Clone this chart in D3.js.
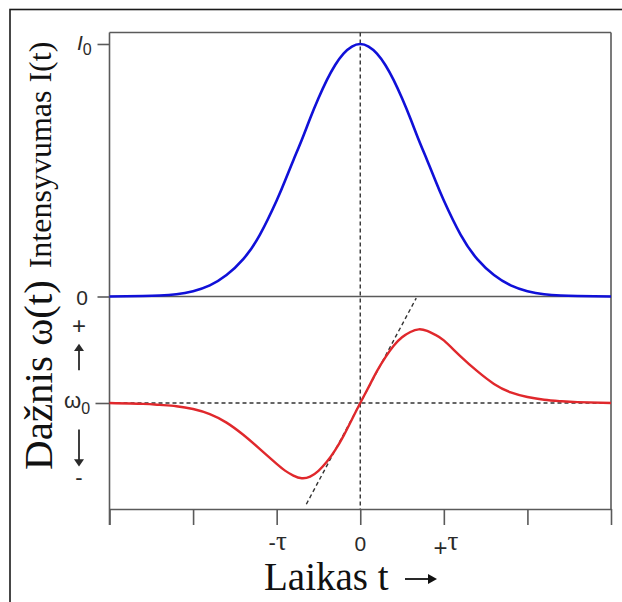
<!DOCTYPE html>
<html>
<head>
<meta charset="utf-8">
<script src="https://cdn.jsdelivr.net/npm/d3@7"></script>
<style>
  html, body { margin: 0; padding: 0; background: #fff; }
  svg { display: block; }
</style>
</head>
<body>
<svg id="chart" width="622" height="602"></svg>
<script>
// Time axis in units of the pulse duration tau
const timeSamples = [-3, -2.6, -2.4, -2.2, -2, -1.8, -1.6, -1.4, -1.2, -1, -0.9, -0.8, -0.7, -0.6, -0.5, -0.4, -0.3, -0.2, -0.1,
                     0, 0.1, 0.2, 0.3, 0.4, 0.5, 0.6, 0.7, 0.8, 0.9, 1, 1.2, 1.4, 1.6, 1.8, 2, 2.2, 2.4, 2.6, 3];
// Pulse intensity I(t) relative to the peak I0
const intensity = [0, 0.002, 0.004, 0.009, 0.021, 0.044, 0.085, 0.148, 0.245, 0.38, 0.458, 0.54, 0.62, 0.705, 0.785, 0.857, 0.917, 0.962, 0.99,
                   1, 0.99, 0.962, 0.917, 0.857, 0.785, 0.705, 0.62, 0.54, 0.458, 0.38, 0.245, 0.148, 0.085, 0.044, 0.021, 0.009, 0.004, 0.002, 0];
// Instantaneous frequency shift omega(t) - omega0 (arbitrary units)
const frequencyShift = [0, -0.008, -0.018, -0.031, -0.057, -0.105, -0.185, -0.30, -0.435, -0.575, -0.638, -0.685, -0.71, -0.695, -0.64, -0.555, -0.445, -0.31, -0.155,
                        0, 0.15, 0.30, 0.43, 0.54, 0.62, 0.67, 0.695, 0.68, 0.643, 0.59, 0.44, 0.30, 0.18, 0.10, 0.057, 0.031, 0.017, 0.008, 0];
// Linear chirp near the pulse centre (dashed tangent)
const tangentT = [-0.645, 0.67];
const tangentW = [-0.955, 0.99];
// Time ticks
const timeTicks = [-3, -2, -1, 0, 1, 2, 3];
const timeTickLabels = [
  { t: -1, sign: "-", sym: "τ" },
  { t: 0, sign: "", sym: "0" },
  { t: 1, sign: "+", sym: "τ" }
];

const svg = d3.select("#chart");

const x = d3.scaleLinear().domain([-3, 3]).range([109.5, 611]);
const yI = d3.scaleLinear().domain([0, 1.0455]).range([296.5, 32.5]);
const yW = d3.scaleLinear().domain([-1, 1]).range([509, 297]);

const axisColor = "#5a5a5a";
const textColor = "#2a2a2a";

// Outer border
svg.append("rect")
  .attr("x", 10).attr("y", 9.5).attr("width", 700).attr("height", 700)
  .attr("fill", "none").attr("stroke", "#1a1a1a").attr("stroke-width", 1.6);

// Plot frame: top, right, middle separator
const frame = svg.append("g").attr("stroke", axisColor).attr("stroke-width", 1.6).attr("fill", "none");
frame.append("line").attr("x1", x(-3)).attr("x2", x(3)).attr("y1", yI.range()[1]).attr("y2", yI.range()[1]);
frame.append("line").attr("x1", x(3)).attr("x2", x(3)).attr("y1", yI.range()[1]).attr("y2", yW(-1));
frame.append("line").attr("x1", x(-3)).attr("x2", x(3)).attr("y1", yI(0)).attr("y2", yI(0));

// Bottom time axis
const xAxis = svg.append("g")
  .attr("transform", `translate(0,${yW(-1)})`)
  .call(d3.axisBottom(x).tickValues(timeTicks).tickSize(16).tickSizeOuter(0).tickFormat(""));
xAxis.selectAll("path, line").attr("stroke", axisColor).attr("stroke-width", 1.6);

// Left axis with ticks for I0, 0 and omega0
const leftTop = svg.append("g")
  .attr("transform", `translate(${x(-3)},0)`)
  .call(d3.axisLeft(yI).tickValues([0, 1]).tickSize(12).tickSizeOuter(0).tickFormat(""));
leftTop.select("path").remove();
leftTop.selectAll("line").attr("stroke", axisColor).attr("stroke-width", 1.6);
const leftBottom = svg.append("g")
  .attr("transform", `translate(${x(-3)},0)`)
  .call(d3.axisLeft(yW).tickValues([0]).tickSize(14).tickSizeOuter(0).tickFormat(""));
leftBottom.select("path").remove();
leftBottom.selectAll("line").attr("stroke", axisColor).attr("stroke-width", 1.6);
svg.append("line")
  .attr("x1", x(-3)).attr("x2", x(-3)).attr("y1", yI.range()[1]).attr("y2", yW(-1) + 16)
  .attr("stroke", axisColor).attr("stroke-width", 1.6);

// Dashed guides
const dash = svg.append("g").attr("stroke", "#333").attr("stroke-width", 1.4)
  .attr("stroke-dasharray", "4,3").attr("fill", "none");
dash.append("line").attr("x1", x(0)).attr("x2", x(0)).attr("y1", yI.range()[1]).attr("y2", yW(-1));
dash.append("line").attr("x1", x(-3)).attr("x2", x(3)).attr("y1", yW(0)).attr("y2", yW(0));
dash.append("line")
  .attr("x1", x(tangentT[0])).attr("y1", yW(tangentW[0]))
  .attr("x2", x(tangentT[1])).attr("y2", yW(tangentW[1]));

// Curves
const lineI = d3.line().x((d, i) => x(timeSamples[i])).y(d => yI(d)).curve(d3.curveNatural);
const lineW = d3.line().x((d, i) => x(timeSamples[i])).y(d => yW(d)).curve(d3.curveNatural);

svg.append("path").datum(intensity)
  .attr("d", lineI).attr("fill", "none").attr("stroke", "#1010d8").attr("stroke-width", 2.6);
svg.append("path").datum(frequencyShift)
  .attr("d", lineW).attr("fill", "none").attr("stroke", "#e0282c").attr("stroke-width", 2.4);

// Left tick labels
const sans = "'Liberation Sans', Arial, sans-serif";
const serif = "'Liberation Serif', 'Times New Roman', serif";

const i0 = svg.append("text").attr("x", 77).attr("y", yI(1) + 6)
  .attr("font-family", sans).attr("font-size", 21).attr("fill", textColor);
i0.append("tspan").attr("font-style", "italic").text("I");
i0.append("tspan").attr("font-size", 16).attr("dy", 5).text("0");

svg.append("text").attr("x", 82).attr("y", yI(0) + 8)
  .attr("font-family", sans).attr("font-size", 21).attr("fill", textColor)
  .attr("text-anchor", "middle").text("0");

const w0 = svg.append("text").attr("x", 64).attr("y", yW(0) + 5)
  .attr("font-family", sans).attr("font-size", 22).attr("fill", textColor);
w0.append("tspan").text("ω");
w0.append("tspan").attr("font-size", 16).attr("dy", 6).text("0");

svg.append("text").attr("x", 79).attr("y", yW(0.73) + 8)
  .attr("font-family", sans).attr("font-size", 24).attr("fill", textColor)
  .attr("text-anchor", "middle").text("+");
svg.append("text").attr("x", 79).attr("y", yW(-0.71) + 7)
  .attr("font-family", sans).attr("font-size", 22).attr("fill", textColor)
  .attr("text-anchor", "middle").text("-");

// Direction arrows beside the frequency axis
const arrows = svg.append("g").attr("stroke", textColor).attr("stroke-width", 1.8).attr("fill", "none");
arrows.append("line").attr("x1", 79).attr("x2", 79).attr("y1", yW(0.31)).attr("y2", yW(0.51));
arrows.append("path").attr("d", `M74,${yW(0.49)} L79,${yW(0.56)} L84,${yW(0.49)} Z`).attr("fill", textColor).attr("stroke", "none");
arrows.append("line").attr("x1", 79).attr("x2", 79).attr("y1", yW(-0.25)).attr("y2", yW(-0.55));
arrows.append("path").attr("d", `M74,${yW(-0.53)} L79,${yW(-0.6)} L84,${yW(-0.53)} Z`).attr("fill", textColor).attr("stroke", "none");

// Time tick labels
timeTickLabels.forEach(d => {
  if (d.sym === "0") {
    svg.append("text").attr("x", x(d.t)).attr("y", 551)
      .attr("font-family", sans).attr("font-size", 21).attr("fill", textColor)
      .attr("text-anchor", "middle").text("0");
  } else {
    const g = svg.append("text").attr("x", x(d.t) + (d.sign === "+" ? 2 : 1)).attr("y", 550)
      .attr("text-anchor", "middle").attr("fill", textColor);
    g.append("tspan").attr("font-family", sans).attr("font-size", d.sign === "+" ? 24 : 22)
      .attr("dy", d.sign === "+" ? 6 : 0).text(d.sign);
    g.append("tspan").attr("font-family", serif).attr("font-size", 27)
      .attr("dy", d.sign === "+" ? -6 : 0).text(d.sym);
  }
});

// Axis titles
svg.append("text")
  .attr("transform", `translate(51,${155}) rotate(-90)`)
  .attr("font-family", serif).attr("font-size", 32).attr("fill", "#111")
  .attr("text-anchor", "middle").text("Intensyvumas I(t)");

svg.append("text")
  .attr("transform", `translate(52,${375}) rotate(-90)`)
  .attr("font-family", serif).attr("font-size", 41).attr("fill", "#111")
  .attr("text-anchor", "middle").text("Dažnis ω(t)");

svg.append("text").attr("x", 264).attr("y", 590)
  .attr("font-family", serif).attr("font-size", 39).attr("fill", "#111")
  .text("Laikas t");
const timeArrow = svg.append("g");
timeArrow.append("line").attr("x1", 405).attr("x2", 430).attr("y1", 579).attr("y2", 579)
  .attr("stroke", "#111").attr("stroke-width", 1.8);
timeArrow.append("path").attr("d", "M428,574 L437,579 L428,584 Z").attr("fill", "#111");
</script>
</body>
</html>
